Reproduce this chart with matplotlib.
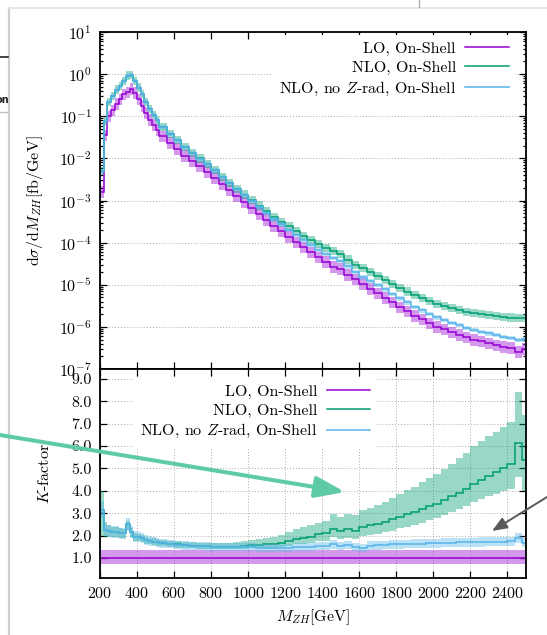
import numpy as np
import matplotlib
matplotlib.use("Agg")
import matplotlib.pyplot as plt
from matplotlib.lines import Line2D
from matplotlib.patches import FancyArrowPatch
from matplotlib.ticker import LogLocator, MultipleLocator, FormatStrFormatter, NullFormatter

plt.rcParams["font.family"] = "serif"
plt.rcParams["font.serif"] = ["cmr10"]
plt.rcParams["mathtext.fontset"] = "cm"
plt.rcParams["axes.formatter.use_mathtext"] = True
plt.rcParams["font.size"] = 11.5

# bin edges [GeV]: 20 GeV up to 520, then 40 GeV, last bin 20 GeV
edges = np.concatenate([np.arange(200, 520, 20), np.arange(520, 2481, 40), [2500]])

# LO, on-shell  d(sigma)/dM_ZH [fb/GeV]
lo = [1.6e-3, 3.5e-2, 0.10, 0.14, 0.20, 0.25, 0.33, 0.37, 0.45, 0.36,
      0.25, 0.178, 0.12, 0.083, 0.063, 0.048,
      0.0331, 0.0234, 0.017, 0.0117, 8.7e-3, 6.5e-3, 4.8e-3,
      3.47e-3, 2.45e-3, 1.74e-3, 1.26e-3, 9.1e-4, 6.6e-4, 4.8e-4, 3.47e-4, 2.51e-4, 1.86e-4,
      1.38e-4, 1.02e-4, 7.8e-5, 5.9e-5, 4.5e-5, 3.5e-5, 2.7e-5, 2.4e-5, 1.74e-5, 1.35e-5,
      1.05e-5, 8.1e-6, 6.3e-6, 4.9e-6, 3.8e-6, 2.95e-6, 2.34e-6, 1.86e-6, 1.51e-6, 1.23e-6,
      1.02e-6, 8.7e-7, 7.4e-7, 6.5e-7, 5.6e-7, 5.0e-7, 4.5e-7, 4.1e-7, 3.7e-7, 3.4e-7,
      3.2e-7, 2.6e-7, 3.0e-7]

# K-factors (ratio to LO)
k_nlo = [3.15, 2.25, 2.2, 2.15, 2.15, 2.1, 2.1, 2.5, 2.15, 1.95,
         1.92, 1.88, 1.8, 1.76, 1.73, 1.7,
         1.66, 1.62, 1.6, 1.57, 1.55, 1.53, 1.52,
         1.5, 1.5, 1.5, 1.5, 1.52, 1.56, 1.58, 1.6, 1.63, 1.68,
         1.75, 1.85, 1.88, 1.95, 2.05, 2.1, 2.3, 2.2, 2.28, 2.2,
         2.38, 2.45, 2.52, 2.62, 2.72, 2.85, 2.95, 3.05, 3.18, 3.3,
         3.42, 3.58, 3.75, 3.92, 4.08, 4.3, 4.5, 4.68, 4.85, 5.0,
         5.2, 6.15, 5.4]
k_nlo_up = [4.0, 2.6, 2.45, 2.4, 2.38, 2.32, 2.3, 2.65, 2.35, 2.12,
            2.07, 2.02, 1.95, 1.91, 1.88, 1.84,
            1.8, 1.76, 1.74, 1.71, 1.69, 1.67, 1.66,
            1.65, 1.66, 1.68, 1.7, 1.74, 1.8, 1.84, 1.9, 1.95, 2.03,
            2.15, 2.3, 2.36, 2.45, 2.58, 2.66, 2.95, 2.85, 2.95, 2.9,
            3.12, 3.25, 3.38, 3.52, 3.68, 3.86, 4.02, 4.18, 4.38, 4.56,
            4.75, 4.98, 5.22, 5.45, 5.68, 6.0, 6.25, 6.45, 6.65, 6.85,
            7.1, 8.4, 7.4]
k_nlo_dn = [2.0, 1.95, 1.95, 1.92, 1.92, 1.88, 1.88, 2.25, 1.93, 1.76,
            1.74, 1.7, 1.63, 1.6, 1.57, 1.55,
            1.52, 1.48, 1.46, 1.44, 1.42, 1.41, 1.4,
            1.39, 1.39, 1.39, 1.39, 1.4, 1.42, 1.43, 1.44, 1.46, 1.49,
            1.54, 1.61, 1.63, 1.67, 1.74, 1.77, 1.92, 1.84, 1.9, 1.84,
            1.97, 2.02, 2.08, 2.15, 2.22, 2.32, 2.4, 2.48, 2.58, 2.68,
            2.78, 2.9, 3.04, 3.18, 3.32, 3.5, 3.64, 3.76, 3.88, 3.98,
            4.08, 4.64, 4.0]
k_noz = [3.15, 2.25, 2.2, 2.15, 2.15, 2.1, 2.1, 2.5, 2.15, 1.95,
         1.92, 1.88, 1.8, 1.76, 1.73, 1.7,
         1.66, 1.62, 1.58, 1.56, 1.54, 1.52, 1.51,
         1.5, 1.5, 1.49, 1.49, 1.48, 1.47, 1.46, 1.45, 1.43, 1.45,
         1.46, 1.48, 1.5, 1.5, 1.52, 1.53, 1.6, 1.52, 1.58, 1.5,
         1.43, 1.55, 1.56, 1.58, 1.6, 1.61, 1.62, 1.63, 1.64, 1.65,
         1.66, 1.67, 1.68, 1.69, 1.7, 1.7, 1.71, 1.72, 1.72, 1.73,
         1.74, 1.88, 1.68]

# scale-variation factors
lo_up, lo_dn = 1.35, 0.72
nlo_up, nlo_dn = 1.25, 0.80
noz_up, noz_dn = 1.12, 0.88

labels = ["LO, On-Shell", "NLO, On-Shell", r"NLO, no $Z$-rad, On-Shell"]
colors = ["#9400d3", "#009e73", "#56b4e9"]
band_alpha = 0.4

lo = np.array(lo)
k_nlo = np.array(k_nlo)
k_noz = np.array(k_noz)
nlo = lo * k_nlo
noz = lo * k_noz

fig = plt.figure(figsize=(5.47, 6.35), dpi=100)
W, H = 547, 635
def px(x, y):
    return (x / W, 1 - y / H)

# background slide bits
fig.add_artist(Line2D([8.5 / W, 8.5 / W], [0, 1 - 8 / H], color="#cfcfcf", lw=1.6))
fig.add_artist(Line2D([8.5 / W, 1], [1 - 7.5 / H, 1 - 7.5 / H], color="#e2e2e2", lw=1.2))
fig.add_artist(Line2D([419 / W, 419 / W], [1 - 7 / H, 1], color="#b0b0b0", lw=1))
fig.add_artist(Line2D([0, 8 / W], [1 - 57 / H, 1 - 57 / H], color="#222222", lw=1.2))
fig.add_artist(Line2D([0, 8 / W], [1 - 112 / H, 1 - 112 / H], color="#c0c0c0", lw=1))
fig.text(9 / W, 1 - 100 / H, "on", ha="right", va="center", fontsize=7,
         fontweight="bold", family="DejaVu Sans", color="#222222")

ax1 = fig.add_axes([100 / W, 1 - 369 / H, 426 / W, 337 / H])
ax2 = fig.add_axes([100 / W, 1 - 578 / H, 426 / W, 209 / H], sharex=ax1)

# upper panel
ax1.stairs(lo * lo_up, edges, baseline=lo * lo_dn, fill=True, color=colors[0], alpha=band_alpha, lw=0)
ax1.stairs(lo, edges, color=colors[0], lw=1.1, label=labels[0])
ax1.stairs(nlo * nlo_up, edges, baseline=nlo * nlo_dn, fill=True, color=colors[1], alpha=band_alpha, lw=0)
ax1.stairs(nlo, edges, color=colors[1], lw=1.1, label=labels[1])
ax1.stairs(noz * noz_up, edges, baseline=noz * noz_dn, fill=True, color=colors[2], alpha=band_alpha, lw=0)
ax1.stairs(noz, edges, color=colors[2], lw=1.1, label=labels[2])

ax1.set_yscale("log")
ax1.set_ylim(1e-7, 1e1)
ax1.set_xlim(200, 2500)
ax1.yaxis.set_major_locator(LogLocator(base=10, numticks=20))
ax1.yaxis.set_minor_locator(LogLocator(base=10, subs=np.arange(2, 10), numticks=20))
ax1.yaxis.set_minor_formatter(NullFormatter())
ax1.grid(axis="y", which="major", color="#aaaaaa", ls=(0, (1, 2)), lw=0.7)
ax1.set_ylabel(r"$\mathrm{d}\sigma/\mathrm{d}M_{ZH}[\mathrm{fb/GeV}]$")
ax1.yaxis.set_label_coords(-0.129, 0.5)
ax1.tick_params(axis="x", labelbottom=False)

# lower panel
ones = np.ones_like(lo)
ax2.stairs(ones * lo_up, edges, baseline=ones * lo_dn, fill=True, color=colors[0], alpha=band_alpha, lw=0)
ax2.stairs(ones, edges, color=colors[0], lw=1.1, label=labels[0])
ax2.stairs(k_nlo_up, edges, baseline=k_nlo_dn, fill=True, color=colors[1], alpha=band_alpha, lw=0)
ax2.stairs(k_nlo, edges, color=colors[1], lw=1.1, label=labels[1])
ax2.stairs(k_noz * noz_up, edges, baseline=k_noz * noz_dn, fill=True, color=colors[2], alpha=band_alpha, lw=0)
ax2.stairs(k_noz, edges, color=colors[2], lw=1.1, label=labels[2])

ax2.set_ylim(0.1, 9.45)
ax2.yaxis.set_major_locator(MultipleLocator(1))
ax2.yaxis.set_major_formatter(FormatStrFormatter("%.1f"))
ax2.xaxis.set_major_locator(MultipleLocator(200))
ax2.grid(which="major", color="#aaaaaa", ls=(0, (1, 2)), lw=0.7)
ax2.set_ylabel(r"$K$-factor")
ax2.yaxis.set_label_coords(-0.113, 0.5)
ax2.set_xlabel(r"$M_{ZH}[\mathrm{GeV}]$", labelpad=4)

for ax in (ax1, ax2):
    ax.set_axisbelow(True)
    ax.tick_params(which="both", direction="in", top=True, right=True, width=0.9)
    ax.tick_params(which="major", length=5, pad=6)
    ax.tick_params(which="minor", length=2.5)
    for s in ax.spines.values():
        s.set_linewidth(1.3)

leg_kw = dict(markerfirst=False, frameon=True, facecolor="white", edgecolor="none",
              framealpha=1, fancybox=False, handlelength=2.7, handletextpad=0.6,
              labelspacing=0.3, borderaxespad=0, borderpad=0.4)
ax1.legend(loc="upper right", bbox_to_anchor=(0.974, 0.99), **leg_kw)
ax2.legend(loc="upper right", bbox_to_anchor=(0.648, 0.957), **leg_kw)

# annotation arrows on top
fig.add_artist(FancyArrowPatch(px(-20, 431.7), px(345, 492), transform=fig.transFigure,
                               arrowstyle="-|>,head_length=18,head_width=6.5",
                               mutation_scale=1, color="#5ecba6", lw=2.9, zorder=10,
                               shrinkA=0, shrinkB=0))
fig.add_artist(FancyArrowPatch(px(560, 489), px(492, 531), transform=fig.transFigure,
                               arrowstyle="-|>,head_length=9,head_width=3.6",
                               mutation_scale=1, color="#595959", lw=1.4, zorder=10,
                               shrinkA=0, shrinkB=0))

fig.savefig("out.png", dpi=100)
